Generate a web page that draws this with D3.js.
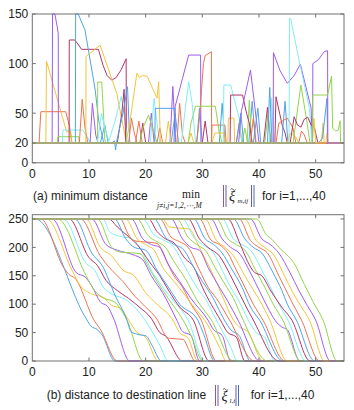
<!DOCTYPE html>
<html><head><meta charset="utf-8">
<script src="https://cdn.jsdelivr.net/npm/d3@7"></script>
<style>body{margin:0;background:#fff}</style>
</head><body><svg id="c" width="354" height="410"></svg>
<script>
// ---------- data ----------
const palette = ["#4fa3ea","#ec7350","#f2c43c","#9d5cf2","#92d54a","#80eef2","#b4346a"];
const xTicks = [0,10,20,30,40,50];
const topYTicks = [0,20,50,100,150];
const botYTicks = [0,50,100,150,200,250];
const tMax = 55;
const topBaseline = 20;
const botStart = 250;
const botEnd = 0;

// (a) minimum distance per agent: [time, distance] breakpoints (baseline 20 elsewhere)
const topSeries = [
 [[12,20],[12.8,38],[13.4,20],[24.5,20],[25.2,50],[25.8,20],[38.2,20],[38.8,62],[39.4,20]],
 [[1.2,20],[1.5,51.5],[5.9,51.5],[6.6,36],[7,20],[18.2,20],[18.8,42],[19.4,20],[31.6,20],[31.7,38],[34,38],[34.2,20]],
 [[2.4,20],[2.5,102.6],[6.05,31.4],[6.8,31],[6.9,20],[27.5,20],[28,30],[28.5,20],[34.5,20],[34.6,45],[35.6,45],[35.7,20]],
 [[3.5,20],[3.57,150],[3.98,150],[4.4,137],[4.58,130],[4.6,20],[20.5,20],[21,50],[21.5,20]],
 [[4.4,20],[4.5,26.3],[8.2,26.3],[8.3,20],[37,20],[37.5,35],[38,20]],
 [[5.3,20],[5.4,33],[8.9,33],[9.8,25],[10.2,20],[20.8,20],[21.5,65],[22,40],[22.5,20]],
 [[6.5,20],[6.52,123.8],[7.53,123.8],[8.7,114.4],[11.66,114.4],[12.5,98],[13.2,88],[14,83.4],[14.8,86],[15.7,94],[16.56,104.9],[16.6,20],[19,20],[19.5,40],[20,20]],
 [[7.6,20],[7.65,150],[8.1,150],[9.3,133.8],[10.2,103.6],[11.1,73.4],[11.7,43],[12.3,28],[12.6,20],[29,20],[29.5,55],[30,20]],
 [[8.3,20],[8.8,64],[9.3,35],[9.8,20],[22,20],[22.5,35],[23,20],[36,20],[36.5,40],[37,20]],
 [[9.45,20],[9.48,107],[11.96,118.7],[14.9,70],[16.1,34.8],[16.6,20]],
 [[10.2,20],[10.6,60],[11.2,28],[11.6,20],[24.3,20],[24.8,77],[25.3,20]],
 [[11.5,20],[11.55,81.4],[12.26,81.4],[12.8,23],[13,20],[37.9,20],[38.3,63],[38.7,20],[41,20],[41.6,48],[42.2,20]],
 [[11.5,20],[12.2,50],[12.8,35],[13.5,22],[14.5,40],[15.7,67],[16.3,45],[16.8,20]],
 [[15,20],[15.8,50],[16.2,74],[16.5,20],[30,20],[30.5,42],[31,20]],
 [[14,20],[14.5,22],[14.7,13],[14.9,22],[16,50],[16.8,76.7],[17.2,20],[33,20],[33.5,60],[34,20]],
 [[17,20],[17.5,45],[18,30],[18.5,20],[25.5,20],[26,60],[26.5,28],[27,20]],
 [[16.5,20],[17.2,40],[18.45,90.2],[18.9,86],[19.5,88],[20.3,87],[22,65],[22.3,81.8],[22.6,20]],
 [[25,20],[25.2,56.5],[26.5,85],[27.6,108.6],[29.7,108.6],[29.75,20]],
 [[19,20],[19.5,35],[20.5,48],[21.5,30],[22,20]],
 [[33.7,20],[33.8,78.4],[35,78.4],[36.5,45],[37,20]],
 [[34.9,20],[35,68.3],[37.1,68.3],[37.8,50],[38.3,40],[38.8,20],[40.8,20],[41.5,56],[42,20]],
 [[21.6,20],[21.7,54.9],[25.2,54.9],[25.25,20],[36,20],[36.8,50],[37.3,20]],
 [[29,20],[29.5,45],[30.2,100],[30.5,108],[31.6,112],[31.65,20],[38.5,20],[39,45],[39.5,20]],
 [[23.5,20],[24,42],[24.5,20],[31.7,20],[32.2,30],[33.8,30],[34,20]],
 [[36.4,20],[36.9,52],[38.5,93.5],[39.5,45],[40,20]],
 [[27.5,20],[28,40],[28.8,57],[32.3,57],[33,30],[33.5,20]],
 [[26.3,20],[27,55],[27.6,81.7],[28.2,60],[28.8,20],[41.8,20],[42.2,65],[42.6,20]],
 [[42.8,20],[43,66.6],[44.1,38],[44.6,30],[45,20]],
 [[39,20],[39.8,55],[40.3,20],[41.5,20],[41.9,76],[42.3,20],[44,20],[44.6,62],[45.1,20]],
 [[43,20],[43.5,40],[45,45],[46,35],[46.5,20]],
 [[45,20],[45.5,30],[46.5,26],[47,20],[51,20],[51.3,40],[51.5,20]],
 [[42.5,20],[42.55,111],[43.7,93],[45,80.1],[46.2,88],[47.3,99.3],[49.2,55],[49.4,20]],
 [[46,20],[47.4,78.4],[48.5,40],[49,20]],
 [[45.3,20],[45.4,146],[45.6,145],[47.2,100],[48.9,55],[49.2,30],[49.4,20]],
 [[45.5,20],[46.2,46.4],[46.8,38],[47.4,36],[48,44],[48.6,46],[49.2,38],[49.8,35],[50.4,20]],
 [[50.5,20],[51.2,25],[52,65],[52.1,20]],
 [[47,20],[47.5,32],[48,28],[48.5,20]],
 [[49.4,20],[49.7,44.8],[50,20],[51.8,20],[52,30],[52.2,20]],
 [[49.45,20],[49.5,100],[50.5,104],[51.5,112],[52.1,113],[52.15,20]],
 [[49.4,20],[49.5,68.3],[52.1,68.3],[52.8,87.5],[53,35],[53.5,32],[54,33],[54.3,42.4],[54.4,20]]
];

// (b) distance to destination line per agent: [time, distance] breakpoints
const botSeries = [
 [[0.5,250],[9.3,78],[10.3,62],[11.5,55],[12.3,46],[14.6,0]],
 [[1.5,250],[5.5,165],[6.5,152],[7.5,146],[11,70],[12,56],[15.0,0]],
 [[2.5,250],[7,160],[8.5,132],[10.5,118],[12.5,112],[14,98],[15.5,93],[17,72],[18.5,50],[20,42],[22.2,0]],
 [[3.5,250],[7.8,155],[9.3,148],[10.5,132],[12,104],[13.3,96],[14.3,76],[17.2,0]],
 [[4.5,250],[9.5,150],[11,124],[12.5,111],[14.5,104],[16.7,72],[19.6,0]],
 [[5.5,250],[9.5,172],[11,160],[12.5,130],[14,118],[16.5,108],[18.5,90],[19.9,72],[22.5,28],[24,0]],
 [[6.5,250],[10,182],[11.5,168],[13,142],[15,124],[17,110],[19,94],[21,75],[22.5,50],[23.5,44],[26.5,0]],
 [[7.5,250],[10.5,190],[12.5,165],[14.5,118],[16.7,72],[17.4,52],[18.5,47],[20.1,44],[21,30],[22.8,0]],
 [[8.5,250],[12,185],[14,160],[16,140],[18,115],[20,95],[22.1,72],[23.5,45],[24.2,40],[26.6,38],[27.6,20],[28.7,0]],
 [[9.5,250],[12,200],[14,185],[16,160],[18,150],[20,120],[22,100],[24.8,72],[26,50],[27.5,40],[29.2,0]],
 [[10.5,250],[13,205],[15,195],[17.8,187],[19.5,178],[21,150],[23,120],[25.5,72],[26.5,52],[28,45],[29.5,0]],
 [[11.5,250],[14,200],[15.4,192],[19,189],[20.5,165],[22,140],[24,110],[26.6,72],[28,45],[30.1,0]],
 [[12.5,250],[13.6,228],[14.6,222],[17.8,214],[19.5,190],[21,160],[23,130],[25,105],[27.5,72],[30.4,0]],
 [[13.5,250],[15,236],[17.2,217],[18.5,205],[20.7,174],[22.5,150],[24,125],[26,95],[28.4,72],[31.2,0]],
 [[14.5,250],[16.5,215],[18,200],[20,195],[22,160],[24,130],[26,100],[29.2,72],[30.2,48],[32.2,0]],
 [[15.5,250],[17,222],[17.8,212],[22,207],[23.5,180],[25,150],[26.5,130],[28,100],[29.8,72],[32.5,0]],
 [[16.5,250],[18.5,215],[20,205],[21.5,195],[23,165],[25,140],[27,115],[28.5,95],[30.4,72],[33,25],[34.2,0]],
 [[17.5,250],[19.5,215],[21,205],[22.5,200],[24,170],[26,140],[28,110],[31,72],[32,55],[33.5,45],[35,0]],
 [[18.5,250],[20.5,220],[22,210],[23.5,200],[25,175],[27,145],[29,108],[31.6,72],[35.5,0]],
 [[19.5,250],[21.5,222],[23,214],[25,200],[27,165],[29,130],[30.5,110],[32.5,72],[35,25],[36.2,0]],
 [[20.5,250],[22,228],[23.5,215],[25,208],[27,180],[28.5,165],[30,130],[33.2,72],[34.5,50],[36,42],[37.5,0]],
 [[21.5,250],[23.5,218],[25,205],[26.5,198],[28.5,165],[30,140],[31.5,118],[33.9,72],[35,55],[36.5,45],[38.5,0]],
 [[22.5,250],[24.5,218],[26,210],[27.5,200],[29.5,160],[31,130],[32.5,110],[34.8,72],[39.2,0]],
 [[23,250],[24.2,236],[27.8,232],[29,210],[30.5,180],[32,150],[33.5,115],[35.5,72],[36.5,60],[38,52],[40.7,0]],
 [[24.5,250],[26.5,215],[28,200],[29.5,195],[31,165],[33,130],[34.5,105],[36.3,72],[40.2,0]],
 [[25.5,250],[27.5,218],[29,205],[30.5,195],[32.5,160],[34,135],[35.5,110],[37.2,72],[41.5,0]],
 [[26.5,250],[28.5,218],[30,205],[32,190],[33.5,160],[35,130],[36.5,105],[38.1,72],[39.5,50],[41,42],[42.8,0]],
 [[27.5,250],[29.5,215],[31,200],[33,185],[35,150],[36.5,120],[37.5,100],[39,72],[43.5,0]],
 [[28.5,250],[30.5,215],[32,205],[33.5,190],[35,165],[37,130],[38.5,95],[40.1,72],[44.2,0]],
 [[29.5,250],[31.5,213],[33,205],[34.5,190],[36,160],[37.5,130],[39,100],[40.7,72],[44.6,0]],
 [[30.5,250],[32.5,212],[34,200],[35.5,185],[37.5,150],[39,125],[40.5,100],[41.9,72],[45,0]],
 [[31.5,250],[33.5,215],[35,200],[36.5,190],[38.5,155],[40,125],[41.5,95],[42.8,72],[44,60],[45,55],[47.2,0]],
 [[32.5,250],[34.5,215],[36,205],[37.5,195],[39.5,158],[41,130],[42.5,100],[44.2,72],[47.4,0]],
 [[33.5,250],[35.5,215],[37,205],[38.5,195],[40.5,160],[42,130],[43.5,100],[45.1,72],[48.3,0]],
 [[34.5,250],[36.5,210],[38,175],[39.2,156],[40.5,150],[42,125],[44,95],[45.8,72],[49,0]],
 [[35.5,250],[37.5,215],[39,200],[40.5,190],[42.5,155],[44,125],[45,100],[46.6,72],[49.8,0]],
 [[36.5,250],[38.5,212],[40,200],[41.5,190],[43.5,150],[45,120],[46,100],[47.5,72],[50.7,0]],
 [[37.5,250],[39.5,212],[41,200],[42.5,188],[44.5,150],[46,120],[47.5,95],[48.9,72],[51.6,0]],
 [[38.5,250],[40.5,215],[42,205],[43.5,190],[45.5,155],[47,125],[48.5,98],[50,72],[52.6,0]],
 [[39.6,250],[41.3,222],[42.3,214],[43.5,200],[45,186],[46,175],[48,135],[49.5,105],[51.3,72],[53.8,0]]
];

// ---------- drawing ----------
const svg = d3.select("#c");
const FONT = '"Liberation Sans", Arial, sans-serif';
const SERIF = '"Liberation Serif", "DejaVu Serif", serif';
const axisColor = "#707070";
const left = 32.3, right = 344;

function panel(cfg){
  const x = d3.scaleLinear().domain([0,tMax]).range([left,right]);
  const y = d3.scaleLinear().domain(cfg.yDomain).range([cfg.bottom, cfg.top]);
  const g = svg.append("g");
  const clipId = "clip"+cfg.id;
  svg.append("clipPath").attr("id",clipId).append("rect")
    .attr("x",left).attr("y",cfg.top-1).attr("width",right-left).attr("height",cfg.bottom-cfg.top+2);
  const lg = g.append("g").attr("clip-path",`url(#${clipId})`);
  const line = d3.line().x(d=>x(d[0])).y(d=>y(d[1])).curve(cfg.curve);
  cfg.series.forEach((s,i)=>{
    const pts = [[0,cfg.startVal]].concat(s,[[tMax,cfg.endVal]]);
    lg.append("path").attr("d",line(pts)).attr("fill","none")
      .attr("stroke",palette[i%palette.length]).attr("stroke-width",1);
  });
  g.append("rect").attr("x",left).attr("y",cfg.top).attr("width",right-left).attr("height",cfg.bottom-cfg.top)
    .attr("fill","none").attr("stroke",axisColor).attr("stroke-width",1);
  const tl = 3.5;
  xTicks.forEach(t=>{
    const px = x(t);
    if(t>0){
      g.append("line").attr("x1",px).attr("x2",px).attr("y1",cfg.bottom).attr("y2",cfg.bottom-tl).attr("stroke",axisColor);
      g.append("line").attr("x1",px).attr("x2",px).attr("y1",cfg.top).attr("y2",cfg.top+tl).attr("stroke",axisColor);
    }
    g.append("text").attr("x",px).attr("y",cfg.bottom+15).attr("text-anchor","middle")
      .attr("font-family",FONT).attr("font-size",12).attr("fill","#222").text(t);
  });
  cfg.yTicks.forEach(v=>{
    const py = y(v);
    g.append("line").attr("x1",left).attr("x2",left+tl).attr("y1",py).attr("y2",py).attr("stroke",axisColor);
    g.append("line").attr("x1",right).attr("x2",right-tl).attr("y1",py).attr("y2",py).attr("stroke",axisColor);
    g.append("text").attr("x",left-4).attr("y",py+4.3).attr("text-anchor","end")
      .attr("font-family",FONT).attr("font-size",12).attr("fill","#222").text(v);
  });
}

panel({id:"a", series:topSeries, yDomain:[0,150], top:14, bottom:162.8, yTicks:topYTicks,
  startVal:topBaseline, endVal:topBaseline, curve:d3.curveLinear});
panel({id:"b", series:botSeries, yDomain:[0,257.5], top:214.7, bottom:361, yTicks:botYTicks,
  startVal:botStart, endVal:botEnd, curve:d3.curveMonotoneX});

// ---------- captions ----------
function txt(x,y,s,opt={}){
  return svg.append("text").attr("x",x).attr("y",y).attr("font-family",opt.family||FONT)
    .attr("font-size",opt.size||12).attr("font-style",opt.style||"normal")
    .attr("fill",opt.fill||"#222").attr("text-anchor",opt.anchor||"start").text(s);
}
function bars(x,y1,y2,c1,c2){
  svg.append("line").attr("x1",x).attr("x2",x).attr("y1",y1).attr("y2",y2).attr("stroke",c1).attr("stroke-width",1);
  svg.append("line").attr("x1",x+2.5).attr("x2",x+2.5).attr("y1",y1).attr("y2",y2).attr("stroke",c2).attr("stroke-width",1);
}
function tilde(x,y){
  svg.append("path").attr("d",`M${x},${y+1} q1.3,-2 2.6,0 t2.6,0`).attr("fill","none")
    .attr("stroke","#333").attr("stroke-width",0.8);
}
// (a)
txt(33,200,"(a) minimum distance");
txt(182,197.5,"min",{family:SERIF,size:11.5});
txt(157,207.5,"j\u2260i,j=1,2,\u22EF,M",{family:SERIF,size:7.5,style:"italic"});
bars(223.5,185,207,"#a05a70","#6a5ab0");
txt(229,201,"\u03BE",{family:SERIF,size:14,style:"italic"});
tilde(230.5,188.5);
txt(237.5,203,"m,ij",{family:SERIF,size:7,style:"italic"});
bars(251.5,185,207,"#6a5ab0","#4a6fc0");
txt(262,200,"for i=1,...,40");
// (b)
txt(46.7,399,"(b) distance to destination line");
bars(215.5,385,406,"#a05a70","#6a5ab0");
txt(221.5,401,"\u03BE",{family:SERIF,size:14,style:"italic"});
tilde(223,388.5);
txt(229.5,403,"l,i",{family:SERIF,size:7,style:"italic"});
bars(236,385,406,"#6a5ab0","#4a6fc0");
txt(250.7,399,"for i=1,...,40");
</script>
</body></html>
